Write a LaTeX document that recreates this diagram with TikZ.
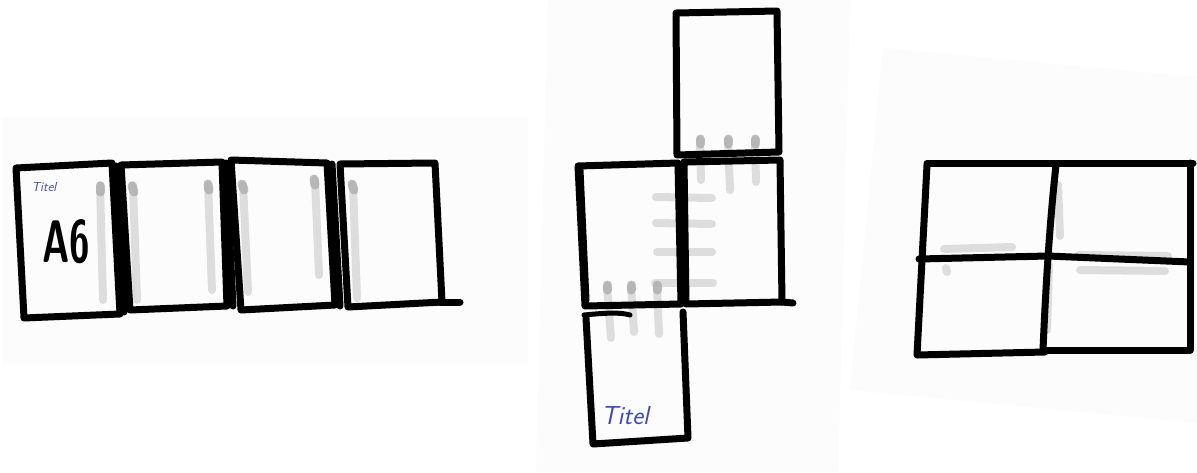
\documentclass[tikz,border=0pt]{standalone}
\usepackage{fontspec}
\definecolor{handblue}{RGB}{62,74,182}
\definecolor{paper}{RGB}{252,252,252}
\tikzset{
  pen/.style={line width=7pt, black, line cap=round, line join=round},
  ghost/.style={line width=8pt, black!16, opacity=0.8, line cap=round},
  ghostblob/.style={line width=9pt, black!35, opacity=0.7, line cap=round},
  sheet/.style={fill=paper, draw=none},
  titel/.style={text=handblue, font=\sffamily\itshape, inner sep=0pt},
}
\begin{document}
\begin{tikzpicture}[x=1pt,y=-1pt]
\useasboundingbox (0,0) rectangle (1197,472);
\fill[white] (0,0) rectangle (1197,472);
% faint paper sheets
\fill[sheet] (2,117) rectangle (528,365);
\fill[sheet] (548,0) -- (850,0) -- (838,472) -- (536,472) -- cycle;
\fill[sheet] (883,48) -- (1197,77) -- (1197,423) -- (850,390) -- cycle;

% ===== Panel 1: four panels in a row =====
% ghosts
\draw[ghost] (100,185) -- (103,300);
\draw[ghostblob] (100,186) -- (100,192);
\draw[ghost] (133,185) -- (137,300);
\draw[ghostblob] (132,186) -- (134,192);
\draw[ghost] (208,185) -- (212,290);
\draw[ghostblob] (208,184) -- (209,190);
\draw[ghost] (243,185) -- (248,292);
\draw[ghostblob] (242,184) -- (244,190);
\draw[ghost] (315,180) -- (319,275);
\draw[ghostblob] (314,179) -- (315,185);
\draw[ghost] (353,185) -- (357,298);
\draw[ghostblob] (352,184) -- (354,190);
% boxes
\draw[pen] (16,168) -- (112,163) -- (120,314) -- (24,318) -- cycle;
\draw[pen] (121,165) -- (222,162) -- (227,306) -- (130,310) -- cycle;
\draw[pen] (116,166) -- (124,312);
\draw[pen] (231,160) -- (327,163) -- (335,305) -- (241,310) -- cycle;
\draw[pen] (226,163) -- (233,306);
\draw[pen] (340,164) -- (435,163) -- (442,302) -- (348,307) -- cycle;
\draw[pen] (332,164) -- (340,306);
\draw[pen] (440,302) -- (460,302);
\node[titel, font=\fontsize{13}{13}\selectfont\sffamily\itshape] (t1) at (44,187) {Titel};
\node[inner sep=0pt, xscale=0.62, font=\fontsize{60}{60}\selectfont\sffamily\bfseries] (a6) at (66,242) {A6};

% ===== Panel 2: cross fold =====
\draw[ghost] (700,140) -- (701,180);
\draw[ghostblob] (700,139) -- (700,144);
\draw[ghost] (728,140) -- (730,190);
\draw[ghostblob] (728,139) -- (728,144);
\draw[ghost] (755,140) -- (756,182);
\draw[ghostblob] (755,139) -- (755,144);
\draw[ghost] (656,197) -- (712,198);
\draw[ghost] (656,223) -- (712,224);
\draw[ghost] (657,252) -- (712,252);
\draw[ghost] (655,283) -- (713,283);
\draw[ghost] (607,286) -- (611,338);
\draw[ghostblob] (607,285) -- (607,290);
\draw[ghost] (631,286) -- (634,332);
\draw[ghostblob] (631,285) -- (631,290);
\draw[ghost] (657,286) -- (659,334);
\draw[ghostblob] (657,285) -- (657,290);
% top box
\draw[pen] (676,13) -- (777,11) -- (779,152) -- (677,155) -- cycle;
% middle left
\draw[pen] (578,166) -- (678,163) -- (681,304) -- (585,306) -- cycle;
\draw[pen] (580,170) -- (586,300);
% middle right
\draw[pen] (684,162) -- (780,160) -- (782,302) -- (686,304) -- cycle;
\draw[pen] (782,302) -- (793,303);
% bottom box
\draw[pen, line width=5pt] (584,315) .. controls (605,313) and (620,312) .. (630,315);
\draw[pen] (586,318) -- (593,444) -- (688,438) -- (683,312);
\node[titel, font=\fontsize{26}{26}\selectfont\sffamily\itshape] (t2) at (625,416) {Titel};

% ===== Panel 3: 2x2 fold =====
\draw[ghost] (1058,185) -- (1060,236);
\draw[ghost] (944,249) -- (1012,247);
\draw[ghost] (946,268) -- (947,272);
\draw[ghost] (1079,255) -- (1168,256);
\draw[ghost] (1080,270) -- (1165,271);
\draw[ghost] (1049,265) -- (1047,330);
\draw[pen] (927,163) -- (1193,163);
\draw[pen] (1190,163) -- (1190,350) -- (1043,350);
\draw[pen] (1045,352) -- (917,355) -- (927,165);
\draw[pen] (1056,165) .. controls (1050,220) and (1046,280) .. (1043,350);
\draw[pen] (919,259) -- (1048,256) -- (1190,262);
\end{tikzpicture}
\end{document}
